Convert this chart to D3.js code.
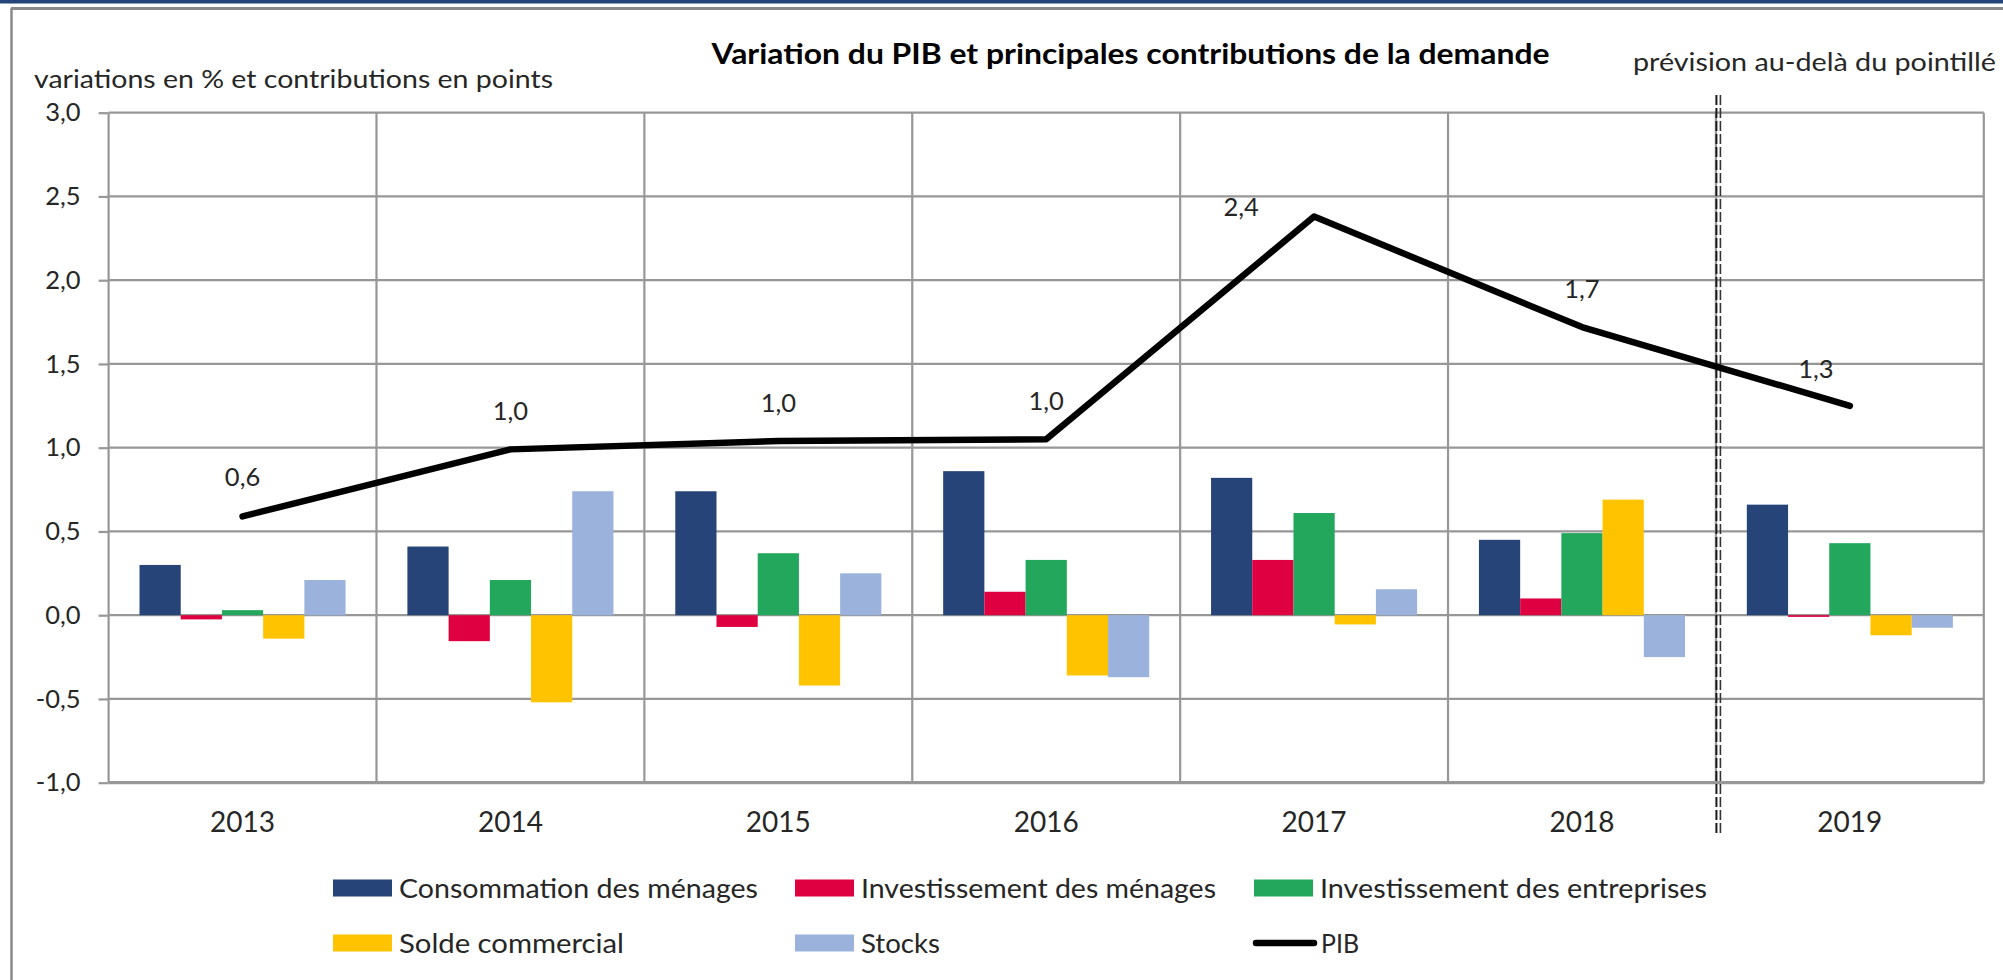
<!DOCTYPE html>
<html>
<head>
<meta charset="utf-8">
<script src="https://cdn.jsdelivr.net/npm/d3@7"></script>
<style>
  html, body { margin: 0; padding: 0; background: #fff; }
  svg { display: block; }
  text { font-family: Lato, "Open Sans", sans-serif; }
</style>
</head>
<body>
<svg id="chart" width="2003" height="980"></svg>
<script>
// ---------- DATA ----------
const categories = ["2013", "2014", "2015", "2016", "2017", "2018", "2019"];
const seriesNames = ["Consommation des ménages", "Investissement des ménages", "Investissement des entreprises", "Solde commercial", "Stocks"];
const consommationMenages = [0.30, 0.41, 0.74, 0.86, 0.82, 0.45, 0.66];
const investMenages = [-0.025, -0.155, -0.07, 0.14, 0.33, 0.10, -0.01];
const investEntreprises = [0.03, 0.21, 0.37, 0.33, 0.61, 0.49, 0.43];
const soldeCommercial = [-0.14, -0.52, -0.42, -0.36, -0.055, 0.69, -0.12];
const stocks = [0.21, 0.74, 0.25, -0.37, 0.155, -0.25, -0.075];
const pib = [0.59, 0.99, 1.04, 1.05, 2.38, 1.72, 1.25];
const pibLabels = ["0,6", "1,0", "1,0", "1,0", "2,4", "1,7", "1,3"];
const yTickValues = [-1.0, -0.5, 0.0, 0.5, 1.0, 1.5, 2.0, 2.5, 3.0];
const titleText = "Variation du PIB et principales contributions de la demande";
const yAxisTitle = "variations en % et contributions en points";
const forecastNote = "prévision au-delà du pointillé";
const forecastStart = "2019";

// ---------- STYLE / LAYOUT ----------
const colors = ["#264478", "#DE0040", "#22A75D", "#FFC300", "#9BB3DC"];
const plot = { left: 108.6, right: 1983.8, top: 112.7, bottom: 782.7 };
const gridColor = "#979797";
// label offsets (layout only) relative to each PIB point
const labelOffsets = [[0, -40], [0, -39], [0, -39], [0, -39], [-73, -11], [0, -39], [-34, -38]];
// rendered text widths (layout only)
const legendTextWidths = [359, 355, 387, 225, 79, 38];

const seriesValues = [consommationMenages, investMenages, investEntreprises, soldeCommercial, stocks];
const fit = (sel, w) => sel.attr("textLength", w).attr("lengthAdjust", "spacingAndGlyphs");

const svg = d3.select("#chart");

// frame
svg.append("rect").attr("x", 0).attr("y", 0).attr("width", 2003).attr("height", 3.5).attr("fill", "#23457a");
svg.append("line").attr("x1", 11).attr("x2", 2003).attr("y1", 8.5).attr("y2", 8.5).attr("stroke", "#8a8a8a").attr("stroke-width", 3);
svg.append("line").attr("x1", 11.5).attr("x2", 11.5).attr("y1", 8).attr("y2", 980).attr("stroke", "#8a8a8a").attr("stroke-width", 2.5);

const x = d3.scaleBand().domain(categories).range([plot.left, plot.right]).paddingInner(0).paddingOuter(0);
const x1 = d3.scaleBand().domain(seriesNames).range([0, x.bandwidth()]).paddingInner(0).paddingOuter(0.75);
const y = d3.scaleLinear().domain([-1, 3]).range([plot.bottom, plot.top]);

const fmt = d3.formatLocale({ decimal: ",", thousands: " ", grouping: [3], currency: ["", "€"], minus: "-" }).format(".1f");

// y axis ticks + labels
const yAxis = d3.axisLeft(y).tickValues(yTickValues).tickSize(10).tickFormat(fmt).tickPadding(18);
const gy = svg.append("g").attr("transform", `translate(${plot.left},0)`).call(yAxis);
gy.select(".domain").remove();
gy.selectAll(".tick line").attr("stroke", gridColor).attr("stroke-width", 2.2);
gy.selectAll(".tick text").attr("font-size", 25.5).attr("fill", "#262626").attr("font-family", "Lato, sans-serif");

const grid = svg.append("g");
grid.selectAll("line.h").data(yTickValues).join("line")
  .attr("class", "h")
  .attr("x1", plot.left).attr("x2", plot.right)
  .attr("y1", d => y(d)).attr("y2", d => y(d))
  .attr("stroke", gridColor).attr("stroke-width", d => d === -1 ? 3.2 : 2.2);
const boundaries = categories.map(c => x(c)).concat([x(categories[categories.length - 1]) + x.bandwidth()]);
grid.selectAll("line.v").data(boundaries).join("line")
  .attr("class", "v")
  .attr("x1", d => d).attr("x2", d => d)
  .attr("y1", plot.top).attr("y2", plot.bottom)
  .attr("stroke", gridColor).attr("stroke-width", 2.2);

// x labels
const xAxis = d3.axisBottom(x).tickSize(0).tickPadding(0);
const gx = svg.append("g").attr("transform", `translate(0,${plot.bottom})`).call(xAxis);
gx.select(".domain").remove();
gx.selectAll(".tick text").attr("font-size", 28).attr("fill", "#262626").attr("font-family", "Lato, sans-serif")
  .attr("dy", null).attr("y", 49.5);

// bars
const groups = svg.append("g").selectAll("g").data(categories).join("g")
  .attr("transform", d => `translate(${x(d)},0)`);
groups.selectAll("rect").data((c, i) => seriesNames.map((s, k) => ({ s, k, v: seriesValues[k][i] }))).join("rect")
  .attr("x", d => x1(d.s))
  .attr("width", x1.bandwidth())
  .attr("y", d => y(Math.max(0, d.v)))
  .attr("height", d => Math.abs(y(d.v) - y(0)))
  .attr("fill", d => colors[d.k]);

// forecast separator (double dashed line)
const sepX = x(forecastStart);
[sepX + 0.5, sepX + 4.5].forEach((px, i) => {
  svg.append("line").attr("x1", px).attr("x2", px).attr("y1", 95).attr("y2", 833)
    .attr("stroke", i === 0 ? "#1a1a1a" : "#333").attr("stroke-width", i === 0 ? 2 : 1.6)
    .attr("stroke-dasharray", "10,3");
});

// PIB line
const cx = d => x(d) + x.bandwidth() / 2;
const line = d3.line().x((d, i) => cx(categories[i])).y(d => y(d));
svg.append("path").datum(pib).attr("d", line)
  .attr("fill", "none").attr("stroke", "#000").attr("stroke-width", 6.5)
  .attr("stroke-linejoin", "round").attr("stroke-linecap", "round");

// PIB labels
svg.append("g").selectAll("text").data(pib).join("text")
  .attr("x", (d, i) => cx(categories[i]) + labelOffsets[i][0])
  .attr("y", (d, i) => y(d) + labelOffsets[i][1])
  .attr("text-anchor", "middle").attr("dominant-baseline", "central")
  .attr("font-size", 25.5).attr("fill", "#262626")
  .text((d, i) => pibLabels[i]);

// titles
svg.append("text").attr("x", 1130.5).attr("y", 64).attr("text-anchor", "middle")
  .attr("font-size", 29).attr("font-weight", "bold").attr("fill", "#000").text(titleText).call(fit, 838);
svg.append("text").attr("x", 34).attr("y", 88).attr("font-size", 25.5).attr("fill", "#262626").text(yAxisTitle).call(fit, 519);
svg.append("text").attr("x", 1633).attr("y", 70.5).attr("font-size", 25.5).attr("fill", "#262626").text(forecastNote).call(fit, 363);

// legend
const legendItems = seriesNames.map((s, k) => ({ name: s, color: colors[k], type: "rect" }))
  .concat([{ name: "PIB", color: "#000", type: "line" }]);
const colX = [333, 795, 1254];
const rowY = [888, 943];
const lg = svg.append("g").selectAll("g").data(legendItems).join("g")
  .attr("transform", (d, i) => `translate(${colX[i % 3]},${rowY[Math.floor(i / 3)]})`);
lg.filter(d => d.type === "rect").append("rect")
  .attr("x", 0).attr("y", -8.5).attr("width", 59).attr("height", 17).attr("fill", d => d.color);
lg.filter(d => d.type === "line").append("line")
  .attr("x1", 2).attr("x2", 60).attr("y1", 0).attr("y2", 0)
  .attr("stroke", "#000").attr("stroke-width", 6.5).attr("stroke-linecap", "round");
lg.append("text").attr("x", d => d.type === "line" ? 67 : 66).attr("y", 9.5)
  .attr("font-size", 27.5).attr("fill", "#262626").text(d => d.name)
  .each(function (d, i) { d3.select(this).call(fit, legendTextWidths[i]); });
</script>
</body>
</html>
